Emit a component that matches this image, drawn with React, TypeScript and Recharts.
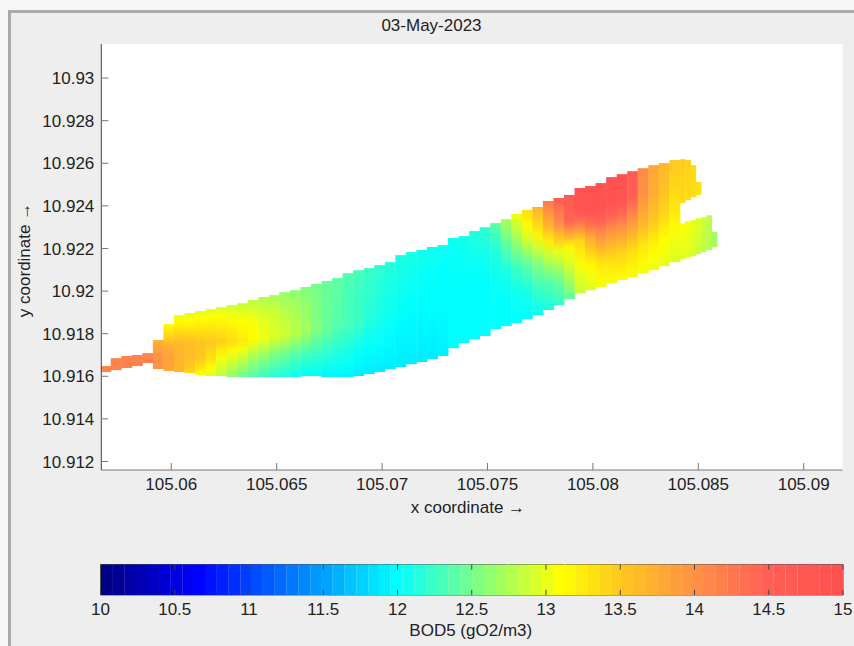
import React from 'react';
import { BarChart, Bar, XAxis, YAxis, CartesianGrid, ReferenceArea, ReferenceLine, Label } from 'recharts';

const FONT = '"Liberation Sans", Arial, sans-serif';
const TITLE = '03-May-2023';
const X_TICKS = [105.06, 105.065, 105.07, 105.075, 105.08, 105.085, 105.09];
const Y_TICKS = [10.912, 10.914, 10.916, 10.918, 10.92, 10.922, 10.924, 10.926, 10.928, 10.93];
const BAR_TICKS = [10, 10.5, 11, 11.5, 12, 12.5, 13, 13.5, 14, 14.5, 15];

// Sections across the channel: x position, lower and upper bank
const sectionX = [
  105.0569, 105.0574, 105.0579, 105.0584, 105.0589, 105.0594, 105.0599, 105.0604, 105.0609, 105.0614,
  105.0619, 105.0624, 105.0629, 105.0634, 105.0639, 105.0644, 105.0649, 105.0654, 105.0659, 105.0664,
  105.0669, 105.0674, 105.0679, 105.0684, 105.0689, 105.0694, 105.0699, 105.0704, 105.0709, 105.0714,
  105.0719, 105.0724, 105.0729, 105.0734, 105.0739, 105.0744, 105.0749, 105.0754, 105.0759, 105.0764,
  105.0769, 105.0774, 105.0779, 105.0784, 105.0789, 105.0794, 105.0799, 105.0804, 105.0809, 105.0814,
  105.0819, 105.0824, 105.0829, 105.0834, 105.0839,
  105.08428, 105.08453, 105.08478, 105.08503, 105.08528, 105.08553, 105.08578,
  105.08428, 105.08453, 105.08478, 105.08503,
];
const sectionLow = [
  10.9162, 10.91629, 10.91639, 10.91648, 10.91662, 10.91634, 10.91625, 10.9162, 10.91615, 10.91606,
  10.91601, 10.91601, 10.91596, 10.91596, 10.91596, 10.91596, 10.91596, 10.91596, 10.91596, 10.91601,
  10.91601, 10.91596, 10.91596, 10.91596, 10.91601, 10.9161, 10.9162, 10.91634, 10.91643, 10.91657,
  10.91667, 10.91681, 10.91695, 10.91732, 10.91756, 10.91775, 10.91789, 10.91822, 10.91836, 10.9185,
  10.91869, 10.91887, 10.91911, 10.91934, 10.91962, 10.9199, 10.92004, 10.92019, 10.92038, 10.92052,
  10.92066, 10.92084, 10.92098, 10.92117, 10.92136,
  10.9215, 10.9216, 10.92164, 10.92174, 10.92183, 10.92193, 10.92207,
  10.92413, 10.92427, 10.92441, 10.92451,
];
const sectionHigh = [
  10.91648, 10.91685, 10.91695, 10.917, 10.91709, 10.9177, 10.91845, 10.91887, 10.91897, 10.91906,
  10.91915, 10.91925, 10.91934, 10.91943, 10.91958, 10.91972, 10.91981, 10.91995, 10.92004, 10.92019,
  10.92033, 10.92047, 10.92061, 10.92084, 10.92098, 10.92108, 10.92122, 10.92136, 10.92169, 10.92183,
  10.92193, 10.92207, 10.92216, 10.92249, 10.92258, 10.92282, 10.923, 10.92319, 10.92338, 10.92362,
  10.92381, 10.92395, 10.92423, 10.92437, 10.92451, 10.92484, 10.92493, 10.92507, 10.92535, 10.92549,
  10.92563, 10.92577, 10.92591, 10.92601, 10.92615,
  10.92319, 10.92328, 10.92333, 10.92342, 10.92347, 10.92356, 10.92277,
  10.92619, 10.92615, 10.92591, 10.92512,
];
const halfWidthFrom = 55;

// BOD5 across each section, from the lower bank to the upper bank
const bodBank = [
  14.15, 14.15, 14.15, 14.15, 14.15, 13.95, 13.8, 13.65, 13.4, 13.1, 12.95, 12.8, 12.6, 12.45, 12.35, 12.25, 12.15, 12.1, 12.05, 12,
  12, 11.95, 11.95, 11.95, 11.9, 11.9, 11.9, 11.9, 11.9, 11.9, 11.9, 11.9, 11.92, 12, 12, 12, 12, 12, 12, 12,
  12, 12.02, 12.1, 12.2, 12.4, 12.85, 12.95, 13.05, 13.05, 13.1, 13.05, 13.05, 13, 13, 12.95,
  12.95, 12.95, 12.9, 12.85, 12.8, 12.75, 12.7, 13.35, 13.35, 13.35, 13.3,
];
const bodQuarter = [
  14.15, 14.15, 14.15, 14.15, 14.15, 14, 13.85, 13.7, 13.6, 13.5, 13.3, 13.05, 12.95, 12.85, 12.7, 12.6, 12.5, 12.45, 12.35, 12.3,
  12.25, 12.2, 12.15, 12.1, 12.05, 12, 12, 11.98, 11.95, 11.95, 11.95, 11.95, 11.97, 12, 12, 12, 12, 12, 12.02, 12.05,
  12.1, 12.25, 12.35, 12.5, 12.8, 13.05, 13.15, 13.3, 13.4, 13.4, 13.35, 13.25, 13.2, 13.1, 13.05,
  13, 13, 12.95, 12.9, 12.85, 12.8, 12.7, 13.4, 13.38, 13.35, 13.3,
];
const bodMiddle = [
  14.15, 14.15, 14.15, 14.15, 14.15, 13.95, 13.75, 13.65, 13.6, 13.55, 13.5, 13.45, 13.35, 13.25, 13.12, 13.05, 12.95, 12.9, 12.8, 12.7,
  12.55, 12.45, 12.35, 12.3, 12.25, 12.15, 12.1, 12.05, 12.02, 12, 12, 12, 12, 12, 12, 12, 12, 12.05, 12.1, 12.25,
  12.4, 12.6, 12.85, 13, 13.15, 13.4, 13.75, 14, 14, 14, 13.9, 13.7, 13.55, 13.4, 13.25,
  13.05, 13, 12.95, 12.9, 12.85, 12.8, 12.7, 13.4, 13.4, 13.35, 13.3,
];
const bodThreeQuarter = [
  14.15, 14.15, 14.15, 14.15, 14.1, 13.8, 13.4, 13.3, 13.25, 13.25, 13.25, 13.2, 13.15, 13.1, 13.05, 12.95, 12.9, 12.8, 12.75, 12.65,
  12.55, 12.45, 12.4, 12.3, 12.25, 12.2, 12.15, 12.1, 12.08, 12.05, 12.03, 12.02, 12, 12.02, 12.03, 12.05, 12.08, 12.15, 12.4, 12.65,
  12.95, 13.2, 13.6, 14, 14.45, 14.75, 14.9, 14.9, 14.9, 14.8, 14.5, 14, 13.75, 13.55, 13.4,
  13.05, 13.05, 13, 12.95, 12.85, 12.8, 12.7, 13.45, 13.4, 13.35, 13.3,
];
const bodUpper = [
  14.15, 14.15, 14.15, 14.15, 14.1, 13.7, 13.1, 13, 13, 13, 12.95, 12.95, 12.9, 12.85, 12.8, 12.75, 12.7, 12.65, 12.6, 12.55,
  12.5, 12.45, 12.4, 12.35, 12.3, 12.25, 12.2, 12.15, 12.12, 12.1, 12.08, 12.07, 12.05, 12.05, 12.08, 12.15, 12.2, 12.4, 12.75, 13.05,
  13.35, 13.7, 14.25, 14.55, 14.7, 14.9, 14.95, 14.95, 14.95, 14.9, 14.6, 14.05, 13.8, 13.65, 13.5,
  13.1, 13.05, 13, 12.95, 12.9, 12.8, 12.7, 13.5, 13.45, 13.4, 13.35,
];

const rampValues = [
  10.04, 10.12, 10.2, 10.27, 10.35, 10.43, 10.51, 10.59, 10.66, 10.74, 10.82, 10.9, 10.98, 11.05, 11.13, 11.21,
  11.29, 11.37, 11.45, 11.52, 11.6, 11.68, 11.76, 11.84, 11.91, 11.99, 12.07, 12.15, 12.23, 12.3, 12.38, 12.46,
  12.54, 12.62, 12.7, 12.77, 12.85, 12.93, 13.01, 13.09, 13.16, 13.24, 13.32, 13.4, 13.48, 13.55, 13.63, 13.71,
  13.79, 13.87, 13.95, 14.02, 14.1, 14.18, 14.26, 14.34, 14.41, 14.49, 14.57, 14.65, 14.73, 14.8, 14.88, 14.96,
];

const colorStops: [number, number, number, number][] = [
  [10, 0, 0, 127],
  [10.65, 0, 0, 255],
  [12, 0, 255, 255],
  [12.55, 128, 255, 128],
  [13.1, 255, 255, 0],
  [13.5, 255, 200, 30],
  [14, 255, 145, 70],
  [14.5, 255, 95, 85],
  [15, 255, 80, 80],
];

function colorOf(v: number): string {
  for (let i = 1; i < colorStops.length; i++) {
    const a = colorStops[i - 1];
    const b = colorStops[i];
    if (v <= b[0]) {
      const t = Math.max(0, (v - a[0]) / (b[0] - a[0]));
      const c = [1, 2, 3].map((k) => Math.round(a[k] + (b[k] - a[k]) * t));
      return `rgb(${c[0]},${c[1]},${c[2]})`;
    }
  }
  return 'rgb(255,80,80)';
}

const sections = sectionX.map((x, i) => ({
  x,
  range: [sectionLow[i], sectionHigh[i]],
  levels: [bodBank[i], bodQuarter[i], bodMiddle[i], bodThreeQuarter[i], bodUpper[i]],
  half: i >= halfWidthFrom,
}));

const rampRows = rampValues.map((v) => ({ v, range: [0, 1] }));

function SectionShape(props: any) {
  const { x, y, width, height, index, payload } = props;
  const w = payload.half ? 5.6 : 11;
  return (
    <rect
      x={x + width / 2 - w / 2}
      y={Math.min(y, y + height)}
      width={w}
      height={Math.abs(height)}
      fill={`url(#sec${index})`}
    />
  );
}

function RampShape(props: any) {
  const { x, y, width, height, payload } = props;
  return <rect x={x + width / 2 - 6} y={y} width={12} height={Math.abs(height)} fill={colorOf(payload.v)} />;
}

function sectionGradient(levels: number[], i: number) {
  const stops: React.ReactNode[] = [];
  for (let k = levels.length - 1; k >= 0; k--) {
    const offset = 1 - k / (levels.length - 1);
    stops.push(<stop key={`a${k}`} offset={offset} stopColor={colorOf(levels[k])} />);
    if (k > 0) {
      stops.push(
        <stop
          key={`b${k}`}
          offset={offset + 0.5 / (levels.length - 1)}
          stopColor={colorOf((levels[k] + levels[k - 1]) / 2)}
        />,
      );
    }
  }
  return (
    <linearGradient key={i} id={`sec${i}`} x1="0" y1="0" x2="0" y2="1">
      {stops}
    </linearGradient>
  );
}

const tickStyle = { fontSize: 17, fill: '#222', fontFamily: FONT };

export default function App() {
  return (
    <div style={{ position: 'absolute', left: 0, top: 0, width: 854, height: 646, background: '#f6f6f6', overflow: 'hidden' }}>
      <div
        style={{
          position: 'absolute', left: 8, top: 10, width: 860, height: 650, background: '#eeeeee',
          borderLeft: '3px solid #aaaaaa', borderTop: '3px solid #aaaaaa',
        }}
      />
      <div
        style={{
          position: 'absolute', left: 0, width: 863, top: 16, textAlign: 'center', fontFamily: FONT,
          fontSize: 17, color: '#222', lineHeight: '20px',
        }}
      >
        {TITLE}
      </div>
      <div style={{ position: 'absolute', left: 0, top: 0 }}>
        <BarChart
          width={854}
          height={540}
          data={sections}
          barSize={11}
          margin={{ top: 44, right: 11.5, bottom: 30, left: 11.3 }}
          style={{ fontFamily: FONT }}
        >
          <defs>{sections.map((s, i) => sectionGradient(s.levels, i))}</defs>
          <CartesianGrid fill="#ffffff" horizontal={false} vertical={false} />
          <XAxis
            dataKey="x"
            type="number"
            domain={[105.05668, 105.09184]}
            ticks={X_TICKS}
            interval={0}
            allowDataOverflow
            height={40}
            tick={tickStyle}
            tickSize={-7}
            tickMargin={15}
            axisLine={{ stroke: '#777' }}
            tickLine={{ stroke: '#777' }}
          >
            <Label value="x coordinate →" position="insideBottom" offset={-3} dx={-4} style={{ ...tickStyle, textAnchor: 'middle' }} />
          </XAxis>
          <YAxis
            type="number"
            domain={[10.9116, 10.9316]}
            ticks={Y_TICKS}
            interval={0}
            allowDataOverflow
            width={90}
            tick={tickStyle}
            tickSize={-7}
            tickMargin={14}
            axisLine={{ stroke: '#444' }}
            tickLine={{ stroke: '#777' }}
          >
            <Label value="y coordinate →" angle={-90} position="center" dx={-32} dy={3} style={{ ...tickStyle, textAnchor: 'middle' }} />
          </YAxis>
          <Bar dataKey="range" isAnimationActive={false} shape={SectionShape} />
        </BarChart>
      </div>
      <div style={{ position: 'absolute', left: 0, top: 540 }}>
        <BarChart
          width={854}
          height={106}
          data={rampRows}
          barSize={12}
          margin={{ top: 24.5, right: 11, bottom: 10, left: 100.5 }}
          style={{ fontFamily: FONT }}
        >
          <XAxis
            dataKey="v"
            type="number"
            domain={[10, 15]}
            ticks={BAR_TICKS}
            interval={0}
            allowDataOverflow
            height={41}
            tick={tickStyle}
            tickLine={false}
            tickSize={0}
            tickMargin={8}
            axisLine={false}
          >
            <Label value="BOD5 (gO2/m3)" position="insideBottom" offset={0} dx={-1} style={{ ...tickStyle, textAnchor: 'middle' }} />
          </XAxis>
          <YAxis type="number" domain={[0, 1]} hide width={0} />
          <Bar dataKey="range" isAnimationActive={false} shape={RampShape} />
          <ReferenceArea x1={10} x2={15} y1={0} y2={1} fill="none" stroke="#555" strokeWidth={1} />
          {BAR_TICKS.map((t) => (
            <ReferenceLine key={`b${t}`} segment={[{ x: t, y: 0 }, { x: t, y: 0.17 }]} stroke="#444" />
          ))}
          {BAR_TICKS.map((t) => (
            <ReferenceLine key={`t${t}`} segment={[{ x: t, y: 0.83 }, { x: t, y: 1 }]} stroke="#444" />
          ))}
        </BarChart>
      </div>
    </div>
  );
}
